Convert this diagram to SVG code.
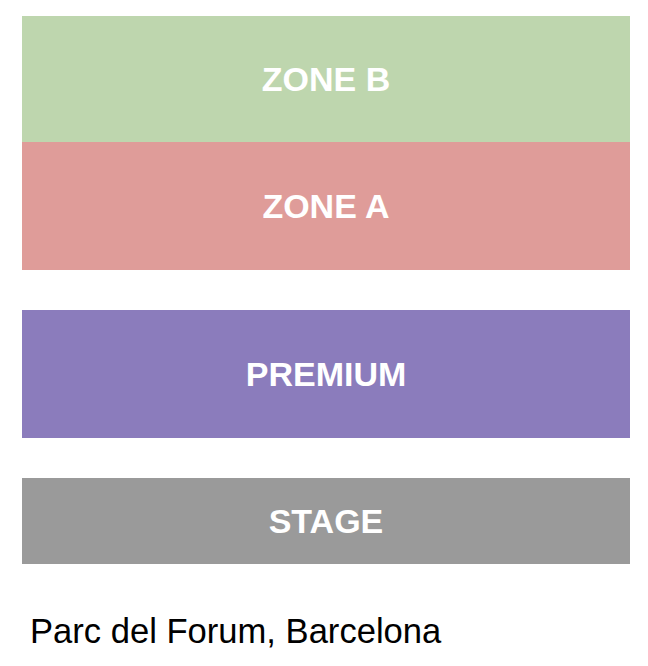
<svg xmlns="http://www.w3.org/2000/svg" width="648" height="666" viewBox="0 0 648 666">
<style>
.lbl{font-family:"Liberation Sans",Arial,sans-serif;font-weight:bold;font-size:34px;fill:#ffffff;text-anchor:middle}
.foot{font-family:"Liberation Sans",Arial,sans-serif;font-size:34.6px;fill:#000000}
</style>
<rect width="648" height="666" fill="#ffffff"/>
<g id="zone-b"><rect x="22" y="16" width="608" height="126" fill="#bed6ae"/><text class="lbl" x="326" y="91">ZONE B</text></g>
<g id="zone-a"><rect x="22" y="142" width="608" height="128" fill="#df9c99"/><text class="lbl" x="326" y="218">ZONE A</text></g>
<g id="premium"><rect x="22" y="310" width="608" height="128" fill="#8b7cbc"/><text class="lbl" x="326" y="386">PREMIUM</text></g>
<g id="stage"><rect x="22" y="478" width="608" height="86" fill="#9a9a9a"/><text class="lbl" x="326" y="533">STAGE</text></g>
<g id="connectors"/>
<text class="foot" x="30" y="643">Parc del Forum, Barcelona</text>
</svg>
